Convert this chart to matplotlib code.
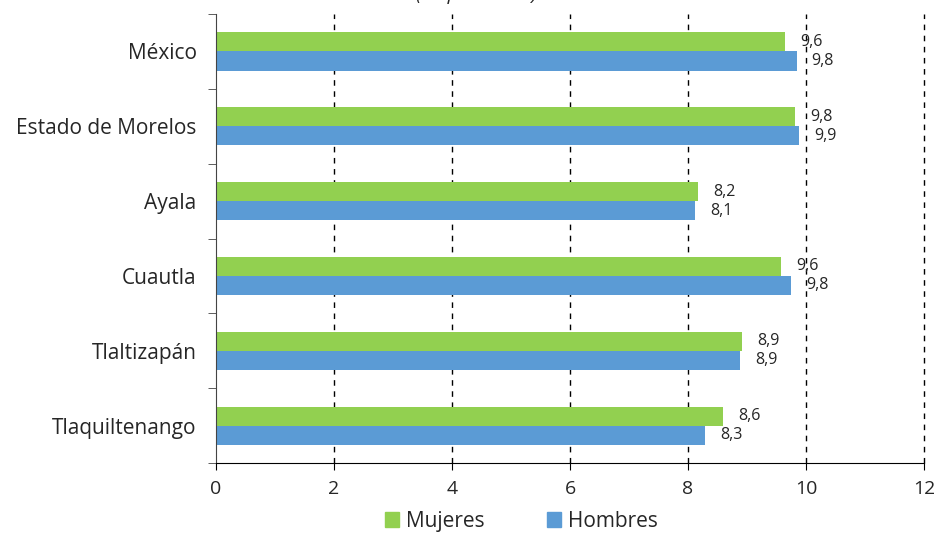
import matplotlib.pyplot as plt
import numpy as np
from matplotlib.patches import Patch

plt.rcParams['font.family'] = ['Open Sans', 'DejaVu Sans']

# Datos
municipios = ['México', 'Estado de Morelos', 'Ayala', 'Cuautla', 'Tlaltizapán', 'Tlaquiltenango']
mujeres = [9.64, 9.81, 8.17, 9.58, 8.92, 8.59]
hombres = [9.84, 9.88, 8.12, 9.75, 8.88, 8.29]

verde = '#92D050'
azul = '#5B9BD5'
texto = '#262626'

fig = plt.figure(figsize=(9.34, 5.37), dpi=100)
ax = fig.add_axes([0.2313, 0.1378, 0.7580, 0.8361])

y = np.arange(len(municipios))
h = 0.255
ax.barh(y - h / 2, mujeres, height=h, color=verde, label='Mujeres')
ax.barh(y + h / 2, hombres, height=h, color=azul, label='Hombres')

# Etiquetas de valores
for i in range(len(municipios)):
    ax.annotate(f'{mujeres[i]:.1f}'.replace('.', ','), (mujeres[i], y[i] - h / 2),
                xytext=(15, 0), textcoords='offset pixels', va='center', ha='left',
                fontsize=11.5, color=texto)
    ax.annotate(f'{hombres[i]:.1f}'.replace('.', ','), (hombres[i], y[i] + h / 2),
                xytext=(15, 0), textcoords='offset pixels', va='center', ha='left',
                fontsize=11.5, color=texto)

ax.set_xlim(0, 12)
ax.set_ylim(len(municipios) - 0.5, -0.5)
ax.set_xticks(range(0, 13, 2))
ax.tick_params(axis='x', labelsize=14, length=5, color='black', pad=7, labelcolor=texto)

ax.set_yticks(y)
ax.set_yticklabels(municipios, fontsize=15, color=texto)
ax.tick_params(axis='y', length=0, pad=14)
ax.set_yticks(np.arange(-0.5, len(municipios), 1), minor=True)
ax.tick_params(axis='y', which='minor', length=6, color='#444444')

for x in range(2, 13, 2):
    ax.axvline(x, color='black', linestyle=(0, (4, 4)), linewidth=1, zorder=0, clip_on=False)

for s in ['top', 'right']:
    ax.spines[s].set_visible(False)
ax.spines['left'].set_color('#444444')
ax.spines['bottom'].set_color('black')

# Subtítulo cortado en el borde superior (como en la imagen original)
fig.text(477, 537, '(en promedio)', transform=None, ha='center', va='baseline',
         fontsize=14, style='italic', color=texto)

handles = [Patch(color=verde), Patch(color=azul)]
fig.legend(handles, ['Mujeres', 'Hombres'], loc='lower center', bbox_to_anchor=(0.558, -0.025),
           ncol=2, frameon=False, fontsize=15, handlelength=0.7, handleheight=0.7,
           handletextpad=0.3, columnspacing=3.0, labelcolor=texto)

fig.savefig('out.png', dpi=100)
